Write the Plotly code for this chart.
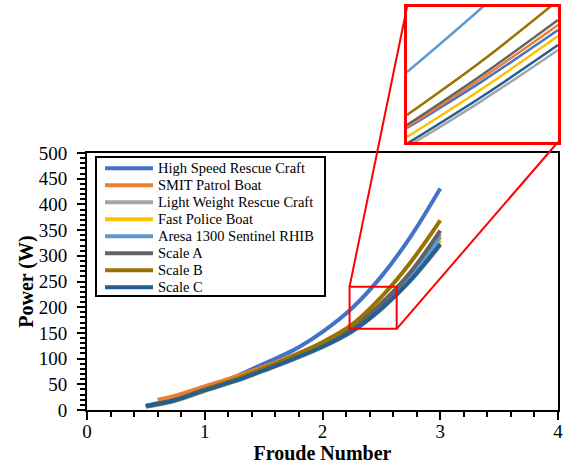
import plotly.graph_objects as go

# Froude number sample points for each hull series
fr_hsrc = [0.5, 0.75, 1.0, 1.25, 1.5, 1.75, 2.0, 2.25, 2.5, 2.75, 3.0]
fr_smit = [0.6, 0.75, 1.0, 1.25, 1.5, 1.75, 2.0, 2.25, 2.5, 2.75, 3.0]
fr_std = [0.5, 0.75, 1.0, 1.25, 1.5, 1.75, 2.0, 2.25, 2.5, 2.75, 3.0]

# Power (W) for each series
p_hsrc = [8, 22, 42, 64, 90, 116, 152, 198, 260, 338, 431]
p_smit = [20, 28, 46, 64, 84, 106, 131, 162, 208, 268, 343]
p_lwrc = [6, 18, 37, 55, 76, 98, 122, 152, 196, 252, 320]
p_police = [7, 19, 38, 56, 78, 100, 125, 156, 200, 258, 330]
p_aresa = [7, 19, 39, 57, 79, 101, 126, 157, 202, 262, 337]
p_scale_a = [7, 20, 40, 58, 80, 103, 129, 161, 207, 269, 349]
p_scale_b = [7, 20, 40, 59, 81, 105, 132, 166, 220, 288, 369]
p_scale_c = [8, 19, 38, 56, 77, 99, 123, 153, 197, 253, 323]

# Detail window shown in the magnified inset
zoom_x = [2.23, 2.63]
zoom_y = [158, 240]
fr_detail = [2.23, 2.43, 2.63]
d_hsrc = [166.5, 195, 226]
d_smit = [167.1, 197, 229.1]
d_lwrc = [155, 183.3, 213.9]
d_police = [161, 190.5, 222.4]
d_aresa = [200.5, 240, 283]
d_scale_a = [168.3, 199, 232.1]
d_scale_b = [174.4, 207.5, 244]
d_scale_c = [157, 185.8, 216.9]

names = ["High Speed Rescue Craft", "SMIT Patrol Boat", "Light Weight Rescue Craft",
         "Fast Police Boat", "Aresa 1300 Sentinel RHIB", "Scale A", "Scale B", "Scale C"]
colors = ["#4472C4", "#ED7D31", "#A5A5A5", "#FFC000", "#5B9BD5", "#636363", "#997300", "#255E91"]
main_x = [fr_hsrc, fr_smit, fr_std, fr_std, fr_std, fr_std, fr_std, fr_std]
main_y = [p_hsrc, p_smit, p_lwrc, p_police, p_aresa, p_scale_a, p_scale_b, p_scale_c]
detail_y = [d_hsrc, d_smit, d_lwrc, d_police, d_aresa, d_scale_a, d_scale_b, d_scale_c]

W, H = 569, 469
M_L, M_R, M_T, M_B = 87, 11, 7, 59
PLOT_W = W - M_L - M_R
PLOT_H = H - M_T - M_B

X_RANGE = [0, 4]
Y_RANGE = [0, 500]
MAIN_TOP = 257 / PLOT_H          # top of the main plot in paper units
INSET_X = [320 / PLOT_W, 1.0]
INSET_Y = [268 / PLOT_H, 1.0]

SERIF = "Liberation Serif"
RED = "#FF0000"

fig = go.Figure()
for name, col, xs, ys in zip(names, colors, main_x, main_y):
    fig.add_trace(go.Scatter(x=xs, y=ys, name=name, mode="lines",
                             line=dict(color=col, width=4, shape="spline"),
                             xaxis="x", yaxis="y", showlegend=False))
for name, col, ys in zip(names, colors, detail_y):
    fig.add_trace(go.Scatter(x=fr_detail, y=ys, name=name, mode="lines", showlegend=False,
                             line=dict(color=col, width=2.5, shape="spline"),
                             xaxis="x2", yaxis="y2"))


def to_paper(x, y):
    px = (x - X_RANGE[0]) / (X_RANGE[1] - X_RANGE[0])
    py = (y - Y_RANGE[0]) / (Y_RANGE[1] - Y_RANGE[0]) * MAIN_TOP
    return px, py


def pix(px, py):
    """Pixel offset inside the plotting margins -> paper coordinates."""
    return (px - M_L) / PLOT_W, (H - M_B - py) / PLOT_H


tl = to_paper(zoom_x[0], zoom_y[1])
br = to_paper(zoom_x[1], zoom_y[0])

shapes = [
    dict(type="rect", xref="x", yref="y", x0=zoom_x[0], x1=zoom_x[1], y0=zoom_y[0], y1=zoom_y[1],
         line=dict(color=RED, width=2)),
    dict(type="line", xref="paper", yref="paper", x0=tl[0], y0=tl[1], x1=INSET_X[0], y1=INSET_Y[1],
         line=dict(color=RED, width=2)),
    dict(type="line", xref="paper", yref="paper", x0=br[0], y0=br[1], x1=INSET_X[1], y1=INSET_Y[0],
         line=dict(color=RED, width=2)),
]

# Boxed legend inside the main plot
annotations = []
lx0, ly0 = pix(96, 157)
lx1, ly1 = pix(325, 296)
shapes.append(dict(type="rect", xref="paper", yref="paper", x0=lx0, y0=ly0, x1=lx1, y1=ly1,
                   line=dict(color="black", width=2), fillcolor="white", layer="above"))
for i, (name, col) in enumerate(zip(names, colors)):
    cy = 168.3 + 17.0 * i
    a, b = pix(105, cy)
    c, _ = pix(153, cy)
    shapes.append(dict(type="line", xref="paper", yref="paper", x0=a, y0=b, x1=c, y1=b,
                       line=dict(color=col, width=4), layer="above"))
    tx, ty = pix(156, cy)
    annotations.append(dict(xref="paper", yref="paper", x=tx, y=ty, xanchor="left", yanchor="middle",
                            text=name, showarrow=False,
                            font=dict(family=SERIF, size=14.5, color="black")))

fig.update_layout(
    width=W, height=H,
    margin=dict(l=M_L, r=M_R, t=M_T, b=M_B, autoexpand=False),
    paper_bgcolor="white", plot_bgcolor="white",
    font=dict(family=SERIF, color="black"),
    showlegend=False,
    xaxis=dict(domain=[0, 1], range=X_RANGE, dtick=1, showgrid=False, zeroline=False,
               showline=True, linecolor="black", linewidth=2, mirror=True,
               ticks="outside", ticklen=8, tickwidth=2, tickcolor="black",
               minor=dict(dtick=0.2, ticks="outside", ticklen=5, tickwidth=1.5, tickcolor="black"),
               tickfont=dict(family=SERIF, size=19, color="black"), ticklabelstandoff=-5,
               title=dict(text="<b>Froude Number</b>", font=dict(family=SERIF, size=20, color="black"),
                          standoff=0),
               automargin=False, anchor="y"),
    yaxis=dict(domain=[0, MAIN_TOP], range=Y_RANGE, dtick=50, showgrid=False, zeroline=False,
               showline=True, linecolor="black", linewidth=2, mirror=True,
               ticks="outside", ticklen=8, tickwidth=2, tickcolor="black",
               minor=dict(dtick=10, ticks="outside", ticklen=5, tickwidth=1.5, tickcolor="black"),
               tickfont=dict(family=SERIF, size=19, color="black"), ticklabelstandoff=6,
               title=dict(text="<b>Power (W)</b>", font=dict(family=SERIF, size=20, color="black"),
                          standoff=0),
               automargin=False, anchor="x"),
    xaxis2=dict(domain=INSET_X, range=zoom_x, showgrid=False, zeroline=False,
                showticklabels=False, ticks="", showline=True, linecolor=RED,
                linewidth=2.5, mirror=True, anchor="y2", automargin=False),
    yaxis2=dict(domain=INSET_Y, range=zoom_y, showgrid=False, zeroline=False,
                showticklabels=False, ticks="", showline=True, linecolor=RED,
                linewidth=2.5, mirror=True, anchor="x2", automargin=False),
    shapes=shapes,
    annotations=annotations,
)

fig.write_html("out.html")
